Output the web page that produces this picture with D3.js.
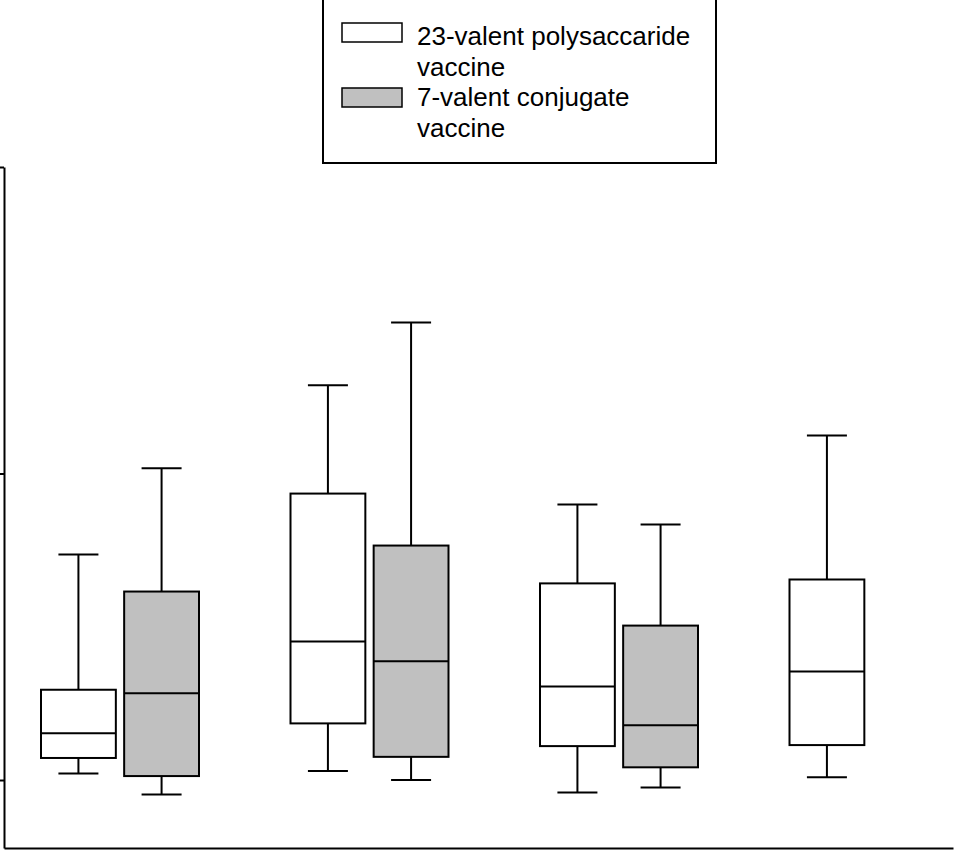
<!DOCTYPE html>
<html>
<head>
<meta charset="utf-8">
<script src="https://cdn.jsdelivr.net/npm/d3@7"></script>
<style>
  html, body { margin: 0; padding: 0; background: #fff; }
  svg { display: block; }
  text { font-family: "Liberation Sans", Arial, sans-serif; }
</style>
</head>
<body>
<svg id="chart"></svg>
<script>
const groups = ["G1", "G2", "G3", "G4"];
const series = ["23-valent polysaccaride vaccine", "7-valent conjugate vaccine"];
const seriesLines = [["23-valent polysaccaride", "vaccine"], ["7-valent conjugate", "vaccine"]];
const seriesFill = ["#ffffff", "#c0c0c0"];

// box stats per group, null where a series has no box
const whiskerLow = [[0.105, 0.0897], [0.107, 0.100], [0.091, 0.0945], [0.102, null]];
const q1 = [[0.118, 0.103], [0.153, 0.119], [0.129, 0.110], [0.130, null]];
const median = [[0.142, 0.192], [0.283, 0.244], [0.202, 0.151], [0.226, null]];
const q3 = [[0.197, 0.412], [0.860, 0.582], [0.438, 0.319], [0.451, null]];
const whiskerHigh = [[0.544, 1.04], [1.94, 3.11], [0.792, 0.682], [1.33, null]];

const yTicks = [0.1, 1, 10];

const width = 955;
const height = 851;

const svg = d3.select("#chart")
  .attr("width", width)
  .attr("height", height);

const yScale = d3.scaleLog()
  .domain([0.06, 10])
  .range([848, 167]);

const xScale = d3.scalePoint()
  .domain(groups)
  .range([120, 868.5]);

const subScale = d3.scaleBand()
  .domain(series)
  .range([-79, 79])
  .paddingInner(0.1);

const boxes = [];
groups.forEach((g, i) => {
  series.forEach((s, j) => {
    if (median[i][j] == null) return;
    boxes.push({
      group: g, series: s, si: j,
      lo: whiskerLow[i][j], q1: q1[i][j], med: median[i][j],
      q3: q3[i][j], hi: whiskerHigh[i][j]
    });
  });
});

const capHalf = 20;

const box = svg.append("g")
  .selectAll("g")
  .data(boxes)
  .join("g")
  .attr("transform", d => `translate(${xScale(d.group) + subScale(d.series)},0)`);

const bw = subScale.bandwidth();

box.append("line")
  .attr("x1", bw / 2).attr("x2", bw / 2)
  .attr("y1", d => yScale(d.hi)).attr("y2", d => yScale(d.lo))
  .attr("stroke", "#000").attr("stroke-width", 2);

box.append("line")
  .attr("x1", bw / 2 - capHalf).attr("x2", bw / 2 + capHalf)
  .attr("y1", d => yScale(d.hi)).attr("y2", d => yScale(d.hi))
  .attr("stroke", "#000").attr("stroke-width", 2);

box.append("line")
  .attr("x1", bw / 2 - capHalf).attr("x2", bw / 2 + capHalf)
  .attr("y1", d => yScale(d.lo)).attr("y2", d => yScale(d.lo))
  .attr("stroke", "#000").attr("stroke-width", 2);

box.append("rect")
  .attr("x", 0)
  .attr("width", bw)
  .attr("y", d => yScale(d.q3))
  .attr("height", d => yScale(d.q1) - yScale(d.q3))
  .attr("fill", d => seriesFill[d.si])
  .attr("stroke", "#000").attr("stroke-width", 2);

box.append("line")
  .attr("x1", 0).attr("x2", bw)
  .attr("y1", d => yScale(d.med)).attr("y2", d => yScale(d.med))
  .attr("stroke", "#000").attr("stroke-width", 2);

// axes
const yAxis = d3.axisLeft(yScale)
  .tickValues(yTicks)
  .tickSize(4)
  .tickSizeOuter(0)
  .tickFormat("");

svg.append("g")
  .attr("transform", "translate(4,0)")
  .call(yAxis)
  .call(g => g.selectAll("path, line").attr("stroke", "#000").attr("stroke-width", 2));

const xLine = d3.scaleLinear().range([4, 953]);
svg.append("g")
  .attr("transform", "translate(0,848)")
  .call(d3.axisBottom(xLine).tickValues([]).tickSizeOuter(0))
  .call(g => g.select("path").attr("stroke", "#000").attr("stroke-width", 2));

// legend
const legend = svg.append("g");
legend.append("rect")
  .attr("x", 323).attr("y", -10)
  .attr("width", 393).attr("height", 173)
  .attr("fill", "#fff")
  .attr("stroke", "#000").attr("stroke-width", 2);

legend.selectAll(".swatch")
  .data(series)
  .join("rect")
  .attr("class", "swatch")
  .attr("x", 342)
  .attr("y", (d, i) => 23 + i * 65)
  .attr("width", 60).attr("height", 19)
  .attr("fill", (d, i) => seriesFill[i])
  .attr("stroke", "#000").attr("stroke-width", 1.5);

const legendText = seriesLines.flat();
legend.selectAll(".label")
  .data(legendText)
  .join("text")
  .attr("class", "label")
  .attr("x", 417)
  .attr("y", (d, k) => 45 + k * 30.5)
  .attr("font-size", 26)
  .attr("fill", "#000")
  .text(d => d);
</script>
</body>
</html>
